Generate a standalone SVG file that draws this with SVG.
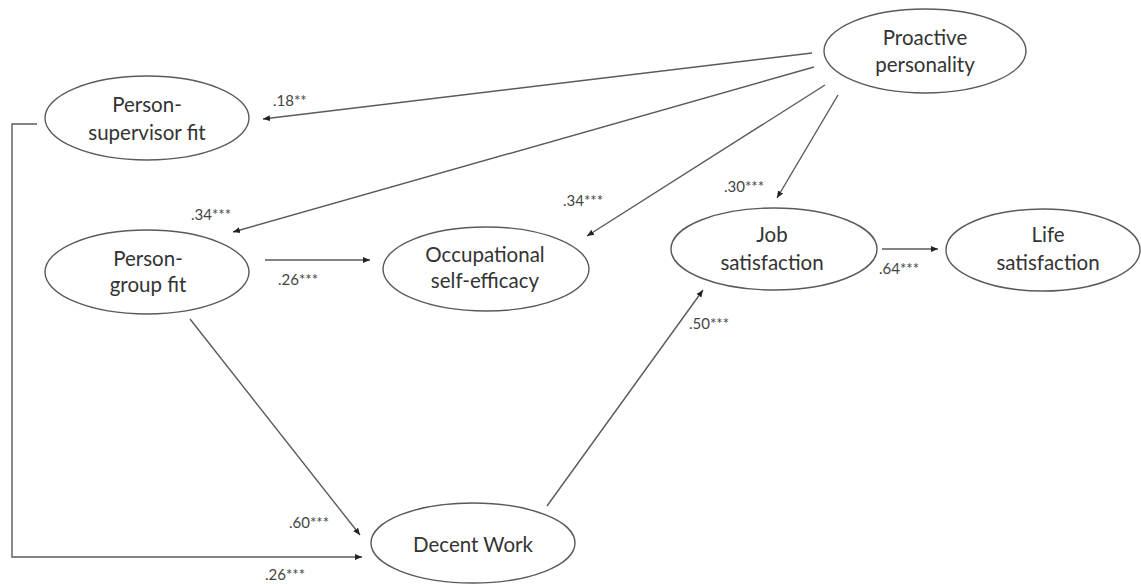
<svg xmlns="http://www.w3.org/2000/svg" width="1141" height="584" viewBox="0 0 1141 584">
  <defs>
    <marker id="arr" markerWidth="8" markerHeight="8" refX="7" refY="4" orient="auto" markerUnits="userSpaceOnUse">
      <path d="M0,1 L7,4 L0,7 Z" fill="#222"/>
    </marker>
    <style>
      .node ellipse { fill: #fff; stroke: #5a5a5a; stroke-width: 1.4; }
      .node text { font-family: Lato, "Open Sans", sans-serif; font-size: 20.5px; fill: #333; text-anchor: middle; }
      .edge { fill: none; stroke: #5a5a5a; stroke-width: 1.4; }
      .lbl { font-family: Lato, "Open Sans", sans-serif; font-size: 15px; fill: #444; }
    </style>
  </defs>
  <rect width="1141" height="584" fill="#fff"/>

  <g id="connectors">
    <line class="edge" x1="812" y1="53" x2="263" y2="119" marker-end="url(#arr)"/>
    <line class="edge" x1="814" y1="67" x2="233" y2="232" marker-end="url(#arr)"/>
    <line class="edge" x1="825" y1="85" x2="587" y2="236" marker-end="url(#arr)"/>
    <line class="edge" x1="838" y1="95" x2="777" y2="198" marker-end="url(#arr)"/>
    <line class="edge" x1="265" y1="260" x2="370" y2="260" marker-end="url(#arr)"/>
    <line class="edge" x1="190" y1="319" x2="360" y2="535" marker-end="url(#arr)"/>
    <polyline class="edge" points="37,124 12,124 12,557 362,557" marker-end="url(#arr)"/>
    <line class="edge" x1="547" y1="506" x2="703" y2="290" marker-end="url(#arr)"/>
    <line class="edge" x1="882" y1="249" x2="938" y2="249" marker-end="url(#arr)"/>

    <text class="lbl" x="273" y="106">.18**</text>
    <text class="lbl" x="191" y="220">.34***</text>
    <text class="lbl" x="563" y="206">.34***</text>
    <text class="lbl" x="724" y="192">.30***</text>
    <text class="lbl" x="278" y="285">.26***</text>
    <text class="lbl" x="289" y="528">.60***</text>
    <text class="lbl" x="265" y="580">.26***</text>
    <text class="lbl" x="689" y="329">.50***</text>
    <text class="lbl" x="879" y="274">.64***</text>
  </g>

  <g id="proactive-personality" class="node">
    <ellipse cx="925" cy="51" rx="101" ry="42"/>
    <text x="925" y="45">Proactive</text>
    <text x="925" y="72">personality</text>
  </g>

  <g id="person-supervisor-fit" class="node">
    <ellipse cx="147" cy="118" rx="102" ry="42"/>
    <text x="147" y="112">Person-</text>
    <text x="147" y="140">supervisor fit</text>
  </g>

  <g id="person-group-fit" class="node">
    <ellipse cx="147" cy="272" rx="102" ry="42"/>
    <text x="148" y="266">Person-</text>
    <text x="148" y="292">group fit</text>
  </g>

  <g id="occupational-self-efficacy" class="node">
    <ellipse cx="486" cy="269" rx="103" ry="42"/>
    <text x="485" y="262">Occupational</text>
    <text x="485" y="288">self-efficacy</text>
  </g>

  <g id="job-satisfaction" class="node">
    <ellipse cx="774" cy="249" rx="103" ry="41"/>
    <text x="772" y="242">Job</text>
    <text x="772" y="270">satisfaction</text>
  </g>

  <g id="life-satisfaction" class="node">
    <ellipse cx="1043" cy="250" rx="97" ry="41"/>
    <text x="1048" y="242">Life</text>
    <text x="1048" y="270">satisfaction</text>
  </g>

  <g id="decent-work" class="node">
    <ellipse cx="473" cy="543" rx="102" ry="40"/>
    <text x="473" y="552">Decent Work</text>
  </g>
</svg>
